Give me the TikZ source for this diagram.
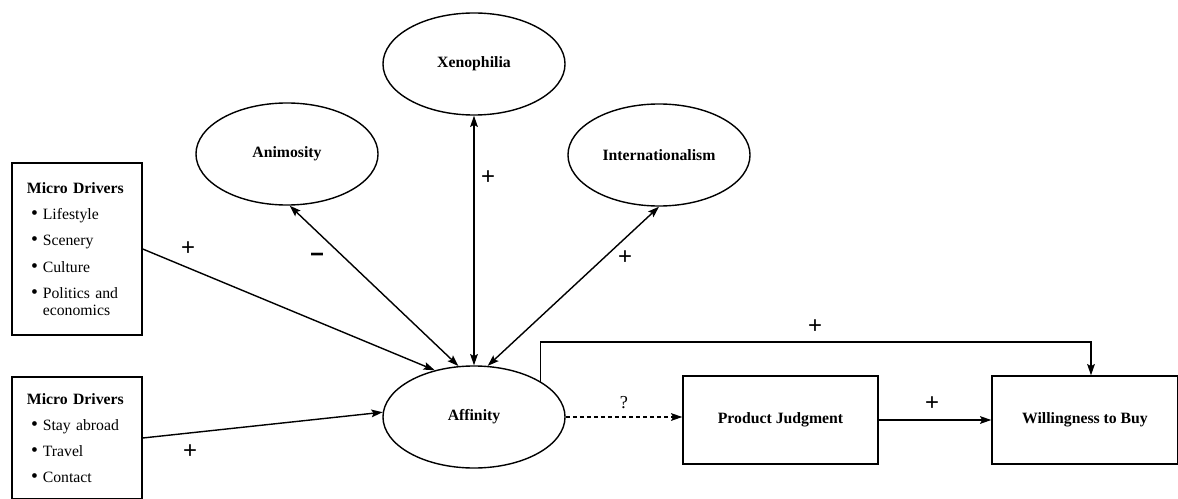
\documentclass[tikz,border=0pt]{standalone}
\usepackage{fontspec}
\setmainfont{Liberation Serif}
\newfontfamily\signfont{Liberation Sans}
\usetikzlibrary{arrows.meta,shapes.geometric}

\newcommand{\itembul}{\hspace*{3pt}{\fontsize{14}{14}\selectfont\textbullet}\hspace{0.3em}}

\begin{document}
\begin{tikzpicture}[x=0.025cm, y=-0.025cm,
	every node/.style={font=\fontsize{11.2}{13.6}\selectfont},
	construct/.style={shape=ellipse, draw=black, line width=1pt, minimum width=4.55cm, minimum height=2.55cm, font=\fontsize{11.2}{13}\selectfont\bfseries},
	drivers/.style={shape=rectangle, draw=black, line width=1pt, minimum width=3.25cm, text width=2.5cm, inner xsep=0.375cm, align=left},
	outcome/.style={shape=rectangle, draw=black, line width=1pt, minimum height=2.2cm, font=\fontsize{11.2}{13}\selectfont\bfseries},
	link/.style={line width=1pt, -{Stealth[length=8pt,width=5.5pt,inset=1.5pt]}},
	dlink/.style={line width=1pt, {Stealth[length=8pt,width=5.5pt,inset=1.5pt]}-{Stealth[length=8pt,width=5.5pt,inset=1.5pt]}},
	sign/.style={font=\signfont\fontsize{17}{19}\selectfont}
]
	\useasboundingbox (0,0) rectangle (1178,499);
	\clip (0,0) rectangle (1178,499);

	\node[construct]                        (xeno)   at (474,64)    {Xenophilia};
	\node[construct]                        (anim)   at (287,154)   {Animosity};
	\node[construct]                        (intl)   at (659,155)   {Internationalism};
	\node[construct]                        (aff)    at (474,417)   {Affinity};
	\node[drivers, minimum height=4.3cm]    (micro1) at (77,249)    {\textbf{Micro Drivers}\\[5pt]
		\itembul Lifestyle\\[5pt]
		\itembul Scenery\\[5pt]
		\itembul Culture\\[5pt]
		\itembul Politics and\\[-1.5pt]
		\hphantom{\itembul}economics};
	\node[drivers, minimum height=3.05cm]   (micro2) at (77,438)    {\textbf{Micro Drivers}\\[5pt]
		\itembul Stay abroad\\[5pt]
		\itembul Travel\\[5pt]
		\itembul Contact};
	\node[outcome, minimum width=4.875cm]   (judg)   at (780.5,420) {Product Judgment};
	\node[outcome, minimum width=4.65cm]    (wtb)    at (1085,420)  {Willingness to Buy};
	\coordinate (top) at (543,342);

	\draw[link]  (micro1.east) -- (aff.130);
	\draw[link]  (micro2.east) -- (aff.177);
	\draw[dlink] (anim.273) -- (aff.107);
	\draw[dlink] (xeno.south) -- (aff.north);
	\draw[dlink] (intl.270) -- (aff.75);
	\draw[link, dash pattern=on 3pt off 2pt] (aff.east) -- (aff.east -| judg.west);
	\draw[link]  (judg.east) -- (wtb.west);
	\draw[link]  (aff.28) -- (aff.28 |- top) -| ([xshift=0.15cm]wtb.north);

	\node[sign] (plus1)  at (188,249) {+};
	\node[sign] (plus2)  at (190,452) {+};
	\node[sign] (minus1) at (317,258) {\bfseries\symbol{"2212}};
	\node[sign] (plus3)  at (488,178) {+};
	\node[sign] (plus4)  at (625,258) {+};
	\node[sign] (plus5)  at (815,327) {+};
	\node[sign] (quest)  at (624,403) {\rmfamily\fontsize{13}{15}\selectfont ?};
	\node[sign] (plus6)  at (932,404) {+};
\end{tikzpicture}
\end{document}
